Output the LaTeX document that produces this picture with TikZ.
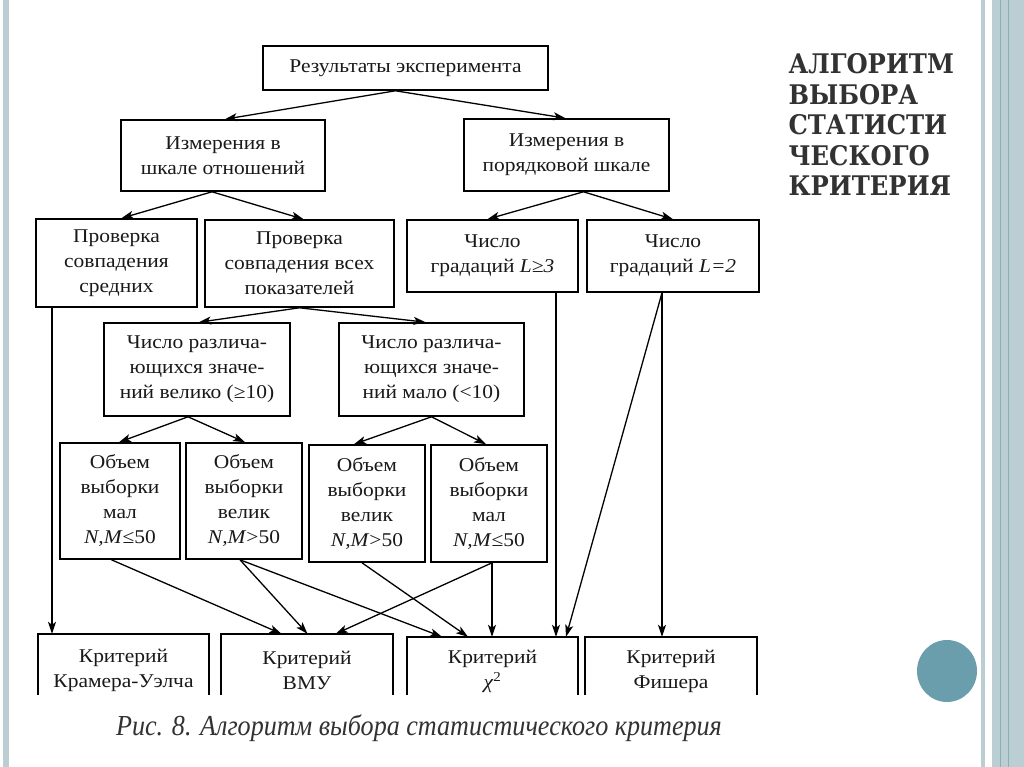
\documentclass[tikz,border=0pt]{standalone}
\usepackage{fontspec}
\setmainfont{Liberation Serif}
\newfontfamily\boxfont{Liberation Serif}[FakeStretch=1.1]
\newfontfamily\titlefont{DejaVu Serif}[FakeStretch=0.9]
\newfontfamily\capfont{Liberation Serif}[FakeStretch=0.9]
\usetikzlibrary{arrows.meta}
\definecolor{strip}{RGB}{186,206,212}
\definecolor{stripdark}{RGB}{140,174,183}
\definecolor{dot}{RGB}{106,158,173}
\definecolor{ink}{RGB}{25,25,25}
\definecolor{titleink}{RGB}{50,50,50}
\tikzset{
  blk/.style={draw, line width=1.6pt, align=center, inner sep=0pt, text=ink,
    font=\boxfont\fontsize{19.5}{25}\selectfont},
  kbox/.style={align=center, inner sep=0pt, text=ink, minimum width=171pt,
    font=\boxfont\fontsize{19.5}{25}\selectfont},
  arr/.style={-{Stealth[length=12pt,width=8pt,inset=3pt]}, line width=1.3pt}
}
\begin{document}
\begin{tikzpicture}[x=1pt,y=-1pt]
\useasboundingbox (0,0) rectangle (1024,767);
\fill[white] (0,0) rectangle (1024,767);
\fill[strip] (3,0) rectangle (9,767);
\fill[strip] (981,0) rectangle (985,767);
\fill[strip] (992,0) rectangle (1024,767);
\draw[stripdark, line width=0.8pt] (1000,0) -- (1000,767);
\draw[stripdark, line width=0.5pt] (1008,0) -- (1008,767);
\fill[dot] (947,671) ellipse (30 and 31);

\node[anchor=north west, align=left, text=titleink,
  font=\titlefont\bfseries\fontsize{27}{30.5}\selectfont] (title) at (785,50)
  {АЛГОРИТМ\\ВЫБОРА\\СТАТИСТИ\\ЧЕСКОГО\\КРИТЕРИЯ};

\node[blk, minimum width=285pt, minimum height=44pt] (res) at (405.5,68) {Результаты эксперимента};
\node[blk, minimum width=204pt, minimum height=71pt] (izm1) at (223,155.5) {Измерения в\\шкале отношений};
\node[blk, minimum width=205pt, minimum height=72pt] (izm2) at (566.5,155) {Измерения в\\порядковой шкале};

\node[blk, minimum width=161pt, minimum height=88pt] (prov1) at (116.5,263) {Проверка\\совпадения\\средних};
\node[blk, minimum width=189pt, minimum height=87pt] (prov2) at (299.5,263.5) {Проверка\\совпадения всех\\показателей};
\node[blk, minimum width=171pt, minimum height=72pt] (grad1) at (492.5,256) {Число\\градаций \textit{L≥3}};
\node[blk, minimum width=172pt, minimum height=72pt] (grad2) at (673,256) {Число\\градаций \textit{L=2}};

\node[blk, minimum width=186pt, minimum height=93pt] (znach1) at (197,369.5) {Число различа-\\ющихся значе-\\ний велико (≥10)};
\node[blk, minimum width=185pt, minimum height=93pt] (znach2) at (431.5,369.5) {Число различа-\\ющихся значе-\\ний мало (<10)};

\node[blk, minimum width=120pt, minimum height=116pt] (obj1) at (120,501) {Объем\\выборки\\мал\\\textit{N,M}≤50};
\node[blk, minimum width=116pt, minimum height=116pt] (obj2) at (244,501) {Объем\\выборки\\велик\\\textit{N,M}>50};
\node[blk, minimum width=116pt, minimum height=117pt] (obj3) at (367,503.5) {Объем\\выборки\\велик\\\textit{N,M}>50};
\node[blk, minimum width=116pt, minimum height=117pt] (obj4) at (489,503.5) {Объем\\выборки\\мал\\\textit{N,M}≤50};

\node[kbox, minimum height=72pt] (krit1) at (123.5,670) {Критерий\\Крамера-Уэлча};
\node[kbox, minimum width=172pt, minimum height=72pt] (krit2) at (307,670) {Критерий\\ВМУ};
\node[kbox, minimum height=69pt] (krit3) at (492.5,671.5) {Критерий\\\textit{χ}\textsuperscript{2}};
\node[kbox, minimum width=172pt, minimum height=69pt] (krit4) at (671,671.5) {Критерий\\Фишера};
\foreach \k in {krit1,krit2,krit3,krit4}
  \draw[line width=1.6pt] ([yshift=11pt]\k.south west) -- (\k.north west) -- (\k.north east) -- ([yshift=11pt]\k.south east);

\node[text=titleink, font=\capfont\itshape\fontsize{29}{32}\selectfont] (cap) at (419,728)
  {Рис. 8. Алгоритм выбора статистического критерия};

\draw[arr] ([xshift=-10pt]res.south) -- ([xshift=2pt]izm1.north);
\draw[arr] ([xshift=-10pt]res.south) -- ([xshift=-1pt]izm2.north);
\draw[arr] ([xshift=-11pt]izm1.south) -- ([xshift=5pt]prov1.north);
\draw[arr] ([xshift=-11pt]izm1.south) -- ([xshift=4pt]prov2.north);
\draw[arr] ([xshift=17pt]izm2.south) -- ([xshift=-5pt]grad1.north);
\draw[arr] ([xshift=17pt]izm2.south) -- (grad2.north);
\draw[arr] (prov2.south) -- ([xshift=2pt]znach1.north);
\draw[arr] (prov2.south) -- ([xshift=-6pt]znach2.north);
\draw[arr] ([xshift=-9pt]znach1.south) -- ([xshift=-1pt]obj1.north);
\draw[arr] ([xshift=-9pt]znach1.south) -- ([xshift=1pt]obj2.north);
\draw[arr] (znach2.south) -- ([xshift=-13pt]obj3.north);
\draw[arr] (znach2.south) -- ([xshift=-3pt]obj4.north);

\draw[arr] ([xshift=-64.5pt]prov1.south) -- ([xshift=-64.5pt]prov1.south |- krit1.north);
\draw[arr] ([xshift=-8.5pt]obj1.south) -- ([xshift=-25.5pt]krit2.north);
\draw[arr] ([xshift=-4pt]obj2.south) -- ([xshift=0.5pt]krit2.north);
\draw[arr] ([xshift=-4pt]obj2.south) -- ([xshift=-50.5pt]krit3.north);
\draw[arr] ([xshift=-5pt]obj3.south) -- ([xshift=-24.5pt]krit3.north);
\draw[arr] ([xshift=3pt]obj4.south) -- ([xshift=28.7pt]krit2.north);
\draw[arr] ([xshift=3pt]obj4.south) -- ([xshift=3pt]obj4.south |- krit3.north);
\draw[arr] ([xshift=63.5pt]grad1.south) -- ([xshift=63.5pt]grad1.south |- krit3.north);
\draw[arr] ([xshift=-11pt]grad2.south) -- ([xshift=73.5pt]krit3.north);
\draw[arr] ([xshift=-11pt]grad2.south) -- ([xshift=-11pt]grad2.south |- krit4.north);
\end{tikzpicture}
\end{document}
